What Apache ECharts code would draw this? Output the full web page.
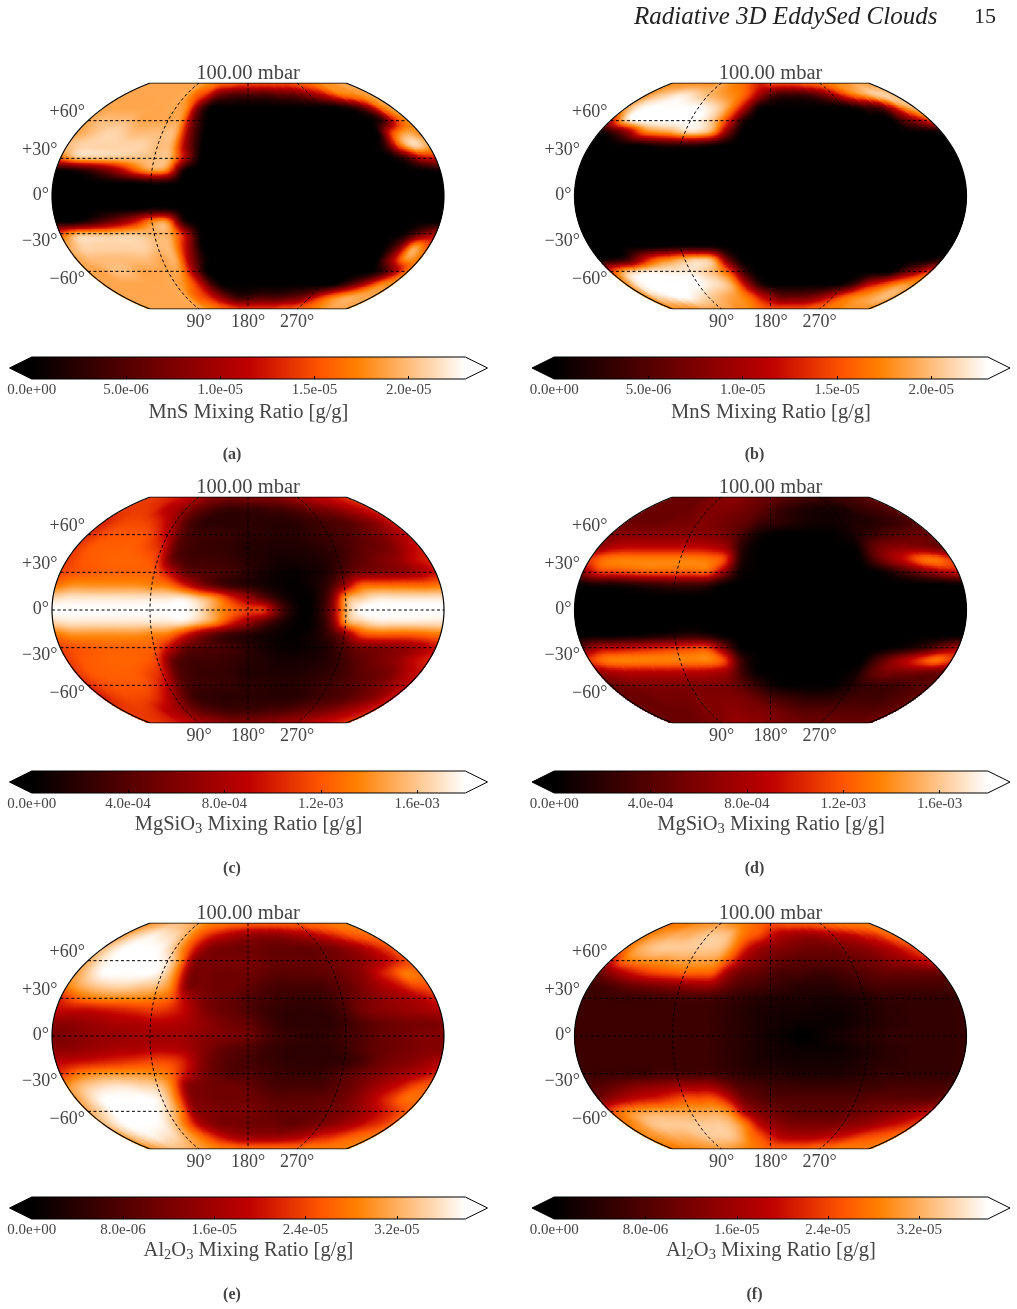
<!DOCTYPE html>
<html>
<head>
<meta charset="utf-8">
<script src="https://cdn.jsdelivr.net/npm/echarts@6/dist/echarts.min.js"></script>
<style>html,body{margin:0;padding:0;background:#fff}#chart{width:1017px;height:1309px}</style>
</head>
<body>
<div id="chart"></div>
<script>
// Node longitudes and latitudes of the cloud fields (degrees)
const LON = [0,15,30,45,60,75,90,105,120,135,150,165,180,195,210,225,240,255,270,285,300,315,330,345,360];
const LAT = [90,80,70,60,50,40,30,20,10,0,-10,-20,-30,-40,-50,-60,-70,-80,-90];

// MnS mixing ratio, unit 1e-6 g/g
const mnsA = [
[19,19,19,19,19,19,19,18,17,16,16,15,15,15,15,15,15,15,16,16,17,18,18,19,19],
[19,19,19,19,19,19,19,16,13,7,5,4,4,4,4,5,5,6,8,10,13,16,17,18,19],
[19,19,19,19,19,19,19,17,6,0,0,0,0,0,0,0,0,0,0,0,1,3,8,16,19],
[19,20,20,20,19,19,19,18,6,0,0,0,0,0,0,0,0,0,0,0,0,0,3,13,18],
[19,20,21,21,20,20,20,19,7,0,0,0,0,0,0,0,0,0,0,0,0,0,14,19,18],
[20,21,21,21,21,21,20,19,8,0,0,0,0,0,0,0,0,0,0,0,0,2,15,21,19],
[16,19.5,20,20,20,20,20,19.5,10,0,0,0,0,0,0,0,0,0,0,0,0,0,3,10,12],
[0,1,3,6,10,15,18,16,1,0,0,0,0,0,0,0,0,0,0,0,0,0,0,0,1],
[0,0,0,0,0,0,1,1,0,0,0,0,0,0,0,0,0,0,0,0,0,0,0,0,0],
[0,0,0,0,0,0,0,0,0,0,0,0,0,0,0,0,0,0,0,0,0,0,0,0,0],
[0,0,0,0,0,0,1,1,0,0,0,0,0,0,0,0,0,0,0,0,0,0,0,0,0],
[0,0,2,5,8,12,17,17,2,0,0,0,0,0,0,0,0,0,0,0,0,0,0,0,0],
[15,19,19.5,19.5,20,20,19.5,19,11,0,0,0,0,0,0,0,0,0,0,0,0,0,1,6,10],
[19,21,21,21,21,21,20,19,10,0,0,0,0,0,0,0,0,0,0,0,0,0,6,18,15],
[19,20,20,20,20,20,19,19,9,1,0,0,0,0,0,0,0,0,0,0,0,0,9,18,17],
[19,19,20,20,19,19,19,18,9,0,0,0,0,0,0,0,0,0,0,0,0,0,3,10,17],
[19,19,19,19,19,19,19,17,12,4,0,0,0,0,0,0,0,0,0,0,3,7,12,17,18],
[19,19,19,19,19,19,19,16,14,10,6,3,3,4,4,4,5,6,9,13,16,18,19,19,19],
[19,19,19,19,19,19,19,18,17,16,15,14,14,14,14,14,15,15,16,16,17,18,19,19,19]];

const mnsB = [
[18,18,18,18,18,18,19,18,17,16,14,13,15,15,15,15,16,16,17,17,18,18,19,19,19],
[18,20,21,22,22,21,20,19,18,17,14,9,5,3,3,3,4,6,9,13,16,18,20,21,20],
[19,22,23,23,23,23,23,22,20,16,9,1,0,0,0,0,0,0,0,1,3,4,10,17,20],
[12,20,23,23,23,23,23,22,19,12,2,0,0,0,0,0,0,0,0,0,0,0,5,9,14],
[0,3,8,15,17,18,20,20,17,7,0,0,0,0,0,0,0,0,0,0,0,0,0,0,0],
[0,0,0,0,1,2,2,2,1,0,0,0,0,0,0,0,0,0,0,0,0,0,0,0,0],
[0,0,0,0,0,0,0,0,0,0,0,0,0,0,0,0,0,0,0,0,0,0,0,0,0],
[0,0,0,0,0,0,0,0,0,0,0,0,0,0,0,0,0,0,0,0,0,0,0,0,0],
[0,0,0,0,0,0,0,0,0,0,0,0,0,0,0,0,0,0,0,0,0,0,0,0,0],
[0,0,0,0,0,0,0,0,0,0,0,0,0,0,0,0,0,0,0,0,0,0,0,0,0],
[0,0,0,0,0,0,0,0,0,0,0,0,0,0,0,0,0,0,0,0,0,0,0,0,0],
[0,0,0,0,0,0,0,0,0,0,0,0,0,0,0,0,0,0,0,0,0,0,0,0,0],
[0,0,0,0,0,0,0,0,0,0,0,0,0,0,0,0,0,0,0,0,0,0,0,0,0],
[0,0,0,0,0,0.5,1,1,1,0,0,0,0,0,0,0,0,0,0,0,0,0,0,0,0],
[0,1,3,10,15,17,19,20,18,6,0,0,0,0,0,0,0,0,0,0,0,0,0,0,2],
[14,19,21,22,22,22,22,21,19,14,4,0,0,0,0,0,0,0,0,0,0,0,5,9,14],
[18,22,23,23,23,23,23,22,21,18,10,3,0,0,0,0,0,0,1,4,10,13,16,18,18],
[18,21,22,23,23,22,21,20,19,18,16,12,9,6,6,6,7,9,12,15,17,18,19,20,19],
[18,18,18,18,19,19,19,19,18,18,17,16,15,15,15,15,15,16,16,17,17,18,18,18,18]];

// MgSiO3 mixing ratio, unit 1e-4 g/g
const mgC = [
[11,11,10.5,10,9.5,9,8,7,6,6,5.5,5.5,6,6,6,6,6.5,7,7.5,8,9,9,9.5,10,11],
[11,11,11,10.5,9,8,6.5,5,4,3,2.5,2.5,2.5,2.5,3,3,3.5,4,5,5.5,6,7,8,9,10],
[10,11,11.5,11.5,11,9.5,7,4,2.5,2,2,2,2,2,1.8,1.8,2,2.5,3,3.5,4,5,6,7.5,9.5],
[10.5,11.5,12,12,12,11,8.5,4.5,3,2.8,2.6,2.4,2,2,1.8,1.8,2,2.5,3,3.5,4,5,6,7.5,9],
[11,12,12.3,12.3,12.3,11.5,10,4.5,3,2.6,2.5,2.2,1.6,1.6,1.4,1.4,1.6,2,2.5,3.5,4.5,5,6,8,9.5],
[11,12,12.3,12.5,12.5,12.3,11,5,3.2,3,2.8,2.5,1.8,1.5,1,1,1.2,1.5,2.5,4,5,6,7,9,10],
[11.5,12,12.3,12.5,12.5,12.5,12.2,9,5,4,3.5,3,2,1.2,0.6,0.4,0.8,1.5,3.5,5.5,6,6.5,7,8,9.5],
[13,14,14,14,14,14,13.5,13,10,6.5,4,2.5,1.8,1,0.4,0.2,0.8,2.5,7,12,12.5,12.5,12.5,12.5,13],
[16.5,17,17,17,17,17,17,17,17,15.5,13.5,10,7,4,1.5,0.2,0.5,4,14,16,17,17,17,17,17],
[18,18,18,18,18,18,18,18,18,17,14.5,12.5,11,10.5,4,0.6,0.6,5,15,18,18,18,18,18,18],
[16.5,17,17,17,17,17,17,17,17,15.5,13.5,10,7,4,1.5,0.2,0.5,4,14,16,17,17,17,17,17],
[13,14,14,14,14,14,13.5,13,10,6.5,4,2.5,1.8,1,0.4,0.2,0.8,2.5,6,11,12,12,12,12.5,13],
[11.5,12,12.3,12.5,12.5,12.5,12.2,9,5,4,3.5,3,2,1.2,0.6,0.4,0.8,1.5,3.5,5.5,6,6.5,7,8,9.5],
[11,12,12.3,12.5,12.5,12.3,11,5,3.2,3,2.8,2.5,1.8,1.5,1,1,1.2,1.5,2.5,4,5,6,7,9,10],
[11,12,12.3,12.3,12.3,11.5,10,4.5,3,2.6,2.5,2.2,1.6,1.6,1.4,1.4,1.6,2,2.5,3.5,4.5,5,6,8,9.5],
[10.5,11.5,12,12,12,11,8.5,4.5,3,2.8,2.6,2.4,2,2,1.8,1.8,2,2.5,3,3.5,4,5,6,7.5,9],
[10,11,11.5,11.5,11,9.5,7,4,2.5,2.2,2,2,2,2,1.8,1.8,2,2.5,3,3.5,4,5,6,7.5,9.5],
[11,11,11,10.5,9,8,6.5,5,4,3.5,3,3,3,3,3.5,3.5,4,4.5,5,5.5,6,7,8,9,10],
[11,11,10.5,10,9.5,9,8,7.5,7,6.5,6,6,6,6,6.5,6.5,7,7,7.5,8,9,9,9.5,10,11]];

const mgD = [
[5,5,5,5,5,6,6,6.5,6.5,6,5.5,5,5,4.5,4,3.5,3,3,2.5,2.5,3,3,3.5,4,5],
[5,5,5,5,5,5.5,6,6,6,5.5,5,4.5,3.5,2.5,2,1.5,1.2,1,1,1.2,2,2.5,3,3.5,4.5],
[5,5,5,5,5.5,5.5,6,6,5.5,5,4.5,3,2.5,2,1.5,1,0.8,0.8,1,1.5,1.5,2,2.5,3,4],
[6,6.5,6.5,6.5,6.5,6.5,6.5,6.5,6,5,3,1,0.2,0,0,0,0,0.3,1,2,3,4,4.5,5,5],
[7,8.5,9,9,9,9,9,9,8.5,7,2,0.2,0,0,0,0,0,0.1,0.5,4,6,6.5,6.5,6,5],
[11,13,13.5,13.5,13.5,13.5,13.5,13.5,13,11,2,0.2,0,0,0,0,0,0,0.4,4,7,9.5,12.5,13,11],
[7,10.5,11,11.5,12,12,12,12,12,7,1,0.2,0,0,0,0,0,0,0,0.4,2,4,6,8,9],
[0.2,1,1,1.5,2,2.5,3,3,2.5,0.5,0,0,0,0,0,0,0,0,0,0,0,0,0,0,0.3],
[0,0,0,0,0,0,0,0,0,0,0,0,0,0,0,0,0,0,0,0,0,0,0,0,0],
[0,0,0,0,0,0,0,0,0,0,0,0,0,0,0,0,0,0,0,0,0,0,0,0,0],
[0,0,0,0,0,0,0,0,0,0,0,0,0,0,0,0,0,0,0,0,0,0,0,0,0],
[0,0,0,0.3,0.5,1,1.5,2,1.5,0.2,0,0,0,0,0,0,0,0,0,0,0,0,0,0,0],
[5,8,8.5,9,9.5,10,10.5,11,11,6,0.5,0,0,0,0,0,0,0,0,0,0.5,1.5,3,5.5,7.5],
[11,13,13.5,13.5,13.5,13.5,13.5,13.5,13.5,11,3,0.3,0,0,0,0,0,0,0,3,6,8.5,11,13,11],
[7,8,8.5,8.5,8.5,8.5,8.5,8.5,8,7,3,0.5,0.1,0,0,0,0,0.1,1,4,5.5,5.5,5.5,5,5],
[5,5.5,6,6,6,6,6,6,6,5.5,4,2.5,1,0.3,0.1,0.1,0.1,0.5,1.5,2.5,3,3,3.5,4,4.5],
[5,5,5,5.5,5.5,5.5,6,6,6,6,5.5,4.5,3.5,3,2.5,2,2,2,2.5,3,3,3,3.5,4,4.5],
[5,5,5,5,5,5.5,6,6,6.5,6.5,6,6,5.5,5,4.5,4,4,4,4,4,4,4,4,4.5,5],
[5,5,5,5,5.5,6,6,6.5,7,7,6.5,6.5,6,6,5.5,5.5,5,5,5,5,5,5,5,5,5]];

// Al2O3 mixing ratio, unit 1e-6 g/g
const alE = [
[30,31,32,33,33,32,31,29,28,28,27,27,26,26,26,26,26,26,26,27,27,27,28,28,29],
[31,34,36,37,36,35,32,27,23,20,18,16,15,14,14,14,15,16,17,19,21,23,25,26,27],
[33,36,38,38,38,37,33,26,18,13,12,11,11,11,10,10,10,10,11,12,14,16,19,22,25],
[32,36,38,38,38,38,36,28,14,12,12,12,12,11,10,10,10,10,11,12,13,15,18,21,25],
[31,35,38,38,38,38,36,28,13,12,11,11,11,10,9,9,9,9.5,10,12,14,19,23,28,27],
[29,32,34,35,35,34,33,28,13,12,11,11,10,8,7,7,7,7,9,11,14,17,20,24,25],
[22,26,28,29,29,29,28,26,18,13,11,10,8,7,6,5.5,5.5,6,8,11,13,15,16,18,21],
[19,19,19,20,21,22,23,22,19,14,11,10,8,6,5,4.5,4.5,5,7,11,13,14,15,16,17],
[14,14,15,16,17,17,18,18,17,15,13,11,10,7,5,4.5,4.5,4.5,6,8,10,11,12,12,13],
[12,13,14,15,15,16,16,16,16,14,13,12,11,8,6,5,4.5,5,6.5,8,10,11,12,13,13],
[14,14,15,16,17,17,18,18,17,14,11,9,8,6,5,4.5,4.5,4.5,6,8,10,11,12,13,13],
[18,19,20,21,22,23,24,24,21,14,10,8,7,6,5,4.5,4.5,4.5,5,7,10,12,13,15,17],
[23,27,29,30,30,30,29,27,20,13,10,8,8,7,6,5.5,5.5,6,8,10,12,14,16,18,21],
[30,33,35,36,36,35,34,28,14,12,11,11,10,8,7,7,7,7,9,11,14,17,20,24,26],
[31,35,38,38,38,38,36,28,14,12,11,11,11,10,9,9,9,9.5,10,12,15,19,23,27,27],
[32,35,38,38,38,38,35,28,15,13,12,12,12,11,10,10,10,10,11,12,14,17,20,23,26],
[33,36,38,38,38,37,33,26,18,14,12,12,11,11,11,10,10,11,12,14,16,18,21,23,26],
[31,34,36,37,36,35,32,29,25,21,18,16,15,15,15,15,16,17,19,21,22,24,26,27,28],
[30,31,32,33,33,32,31,30,29,28,28,27,27,27,27,27,27,27,27,28,28,28,28,28,29]];

const alF = [
[27,28,28,29,30,30,31,30,29,28,27,26,25,25,26,26,26,26,27,27,28,28,28,28,28],
[28,30,31,32,32,33,34,34,33,29,26,24,20,17,16,15,15,16,17,18,19,21,22,25,27],
[27,31,33,34,34,34,34,34,33,28,21,16,14,13,12,11,11,11,12,13,14,16,18,21,24],
[20,27,29,30,30,31,31,31,30,24,16,13,11,10,9,9,9,9,10,11,12,14,15,18,20],
[10,15,19,22,24,25,26,26,25,16,11,10,8,7,7,6,6,7,8,9,10,10,10,10,10],
[6,7,9,11,12,13,14,15,15,11,8,7,6,5,4,4,4,5,6,7,7,7,7,7,7],
[6,6,6,6,6,6.5,7,7,7,6,5,4,3.5,3,3,2.5,2.5,3,3.5,4.5,5,5,5,5,5.5],
[6,6,6,6,6,6,6,6,6,5,4,3,2.5,2,2,1.5,1.5,2,3,4,4.5,5,5,5,5.5],
[6,6,6,6,6,6,6,6,6,5,4,3,2.2,1.5,1,1,1.2,2,3,4,4.5,5,5,5,5.5],
[6,6,6,6,6,6,6,6,6,5,4,3,1.8,0.8,0,0.8,2,3,4,4.5,5,5,5,5,5.5],
[6,6,6,6,6,6,6,6,6,5,4,3,2.2,1.5,1,1,1.2,2,3,4,4.5,5,5,5,5.5],
[6,6,6,6,6,6,6,6,6,5,4,3,2.5,2,2,2,2,2.5,3.5,4,4.5,5,5,5,5.5],
[6,6,6,6,6,7,7,7,7,6,5,4,4,3.5,3,3,3,3.5,4,5,5,5,5,5,5.5],
[8,9,11,13,14,15,16,16,16,12,8,7,6,6,5.5,5.5,5.5,5.5,6,6,7,7,7,7,7],
[11,15,18,20,21,23,25,25,25,20,12,9,8,8,8,8,8,8,8,9,9,9,9,9,10],
[24,28,30,31,31,31,31,31,31,28,18,13,11,10,9,9,9,9,10,11,12,13,14,16,18],
[28,30,33,34,34,34,34,34,34,32,27,19,15,13,12,12,12,12,13,14,15,17,19,21,23],
[29,30,31,32,32,33,34,34,34,32,28,25,21,18,17,17,17,18,19,20,22,24,25,26,27],
[28,28,29,29,30,30,31,31,30,29,28,27,26,26,26,26,26,27,27,27,28,28,28,28,28]];

// Colour bar tops and tick labels, in the same units as the fields
const mnsMax = 23, mgMax = 18, alMax = 38;
const mnsTicks = [0,5,10,15,20];
const mnsTickLabels = ['0.0e+00','5.0e-06','1.0e-05','1.5e-05','2.0e-05'];
const mgTicks = [0,4,8,12,16];
const mgTickLabels = ['0.0e+00','4.0e-04','8.0e-04','1.2e-03','1.6e-03'];
const alTicks = [0,8,16,24,32];
const alTickLabels = ['0.0e+00','8.0e-06','1.6e-05','2.4e-05','3.2e-05'];
const mnsName = '{n|MnS Mixing Ratio [g/g]}';
const mgName = '{n|MgSiO}{s|3}{n| Mixing Ratio [g/g]}';
const alName = '{n|Al}{s|2}{n|O}{s|3}{n| Mixing Ratio [g/g]}';

const parallelTicks = [60,30,0,-30,-60];
const parallelLabels = ['+60°','+30°','0°','−30°','−60°'];
const meridianTicks = [90,180,270];
const meridianLabels = ['90°','180°','270°'];
const pressureLabel = '100.00 mbar';
const runningHead = 'Radiative 3D EddySed Clouds';
const pageNumber = '15';

const panels = [
  {field: mnsA, max: mnsMax, ticks: mnsTicks, labels: mnsTickLabels, name: mnsName, cap: 'a', cx: 248, cy: 196, nameGap: 23},
  {field: mnsB, max: mnsMax, ticks: mnsTicks, labels: mnsTickLabels, name: mnsName, cap: 'b', cx: 770.5, cy: 196, nameGap: 23},
  {field: mgC, max: mgMax, ticks: mgTicks, labels: mgTickLabels, name: mgName, cap: 'c', cx: 248, cy: 610, nameGap: 20},
  {field: mgD, max: mgMax, ticks: mgTicks, labels: mgTickLabels, name: mgName, cap: 'd', cx: 770.5, cy: 610, nameGap: 20},
  {field: alE, max: alMax, ticks: alTicks, labels: alTickLabels, name: alName, cap: 'e', cx: 248, cy: 1036, nameGap: 20},
  {field: alF, max: alMax, ticks: alTicks, labels: alTickLabels, name: alName, cap: 'f', cx: 770.5, cy: 1036, nameGap: 20}
];

const SERIF = '"Liberation Serif", serif';
const INK = '#444';

// Kavrayskiy VII: horizontal map coordinate, centred on longitude 180
function projX(lon, lat) {
  return (lon - 180) * Math.sqrt(1 - 3 * (lat / 180) * (lat / 180));
}

// gist_heat colour ramp
function heat(t) {
  t = Math.max(0, Math.min(1, t));
  const r = Math.min(1, 1.5 * t), g = Math.max(0, 2 * t - 1), b = Math.max(0, 4 * t - 3);
  return 'rgb(' + Math.round(r * 255) + ',' + Math.round(g * 255) + ',' + Math.round(b * 255) + ')';
}
const heatStops = [0, 0.25, 0.5, 2 / 3, 0.75, 0.875, 1].map(function (t) {
  return {offset: t, color: heat(t)};
});

// Catmull-Rom shading between the nodes of a cell
function cubic(a, b, c, d, s) {
  return b + 0.5 * s * (c - a + s * (2 * a - 5 * b + 4 * c - d + s * (3 * (b - c) + d - a)));
}
function shade(field, fi, fj) {
  const i = Math.min(LON.length - 2, Math.floor(fi)), j = Math.min(LAT.length - 2, Math.floor(fj));
  const s = fi - i, u = fj - j;
  const col = [];
  for (let m = -1; m <= 2; m++) {
    const row = field[Math.max(0, Math.min(LAT.length - 1, j + m))];
    col.push(cubic(row[Math.max(0, i - 1)], row[i], row[i + 1], row[Math.min(LON.length - 1, i + 2)], s));
  }
  return cubic(col[0], col[1], col[2], col[3], u);
}

const STRIPS = 8, STOPS = 4;
function fieldRenderer(panel) {
  return function (params, api) {
    const i = api.value(3), j = api.value(4);
    const lon0 = api.value(0), lat0 = api.value(1), lon1 = LON[i + 1], lat1 = LAT[j + 1];
    const children = [];
    for (let k = 0; k < STRIPS; k++) {
      const la0 = lat0 + (lat1 - lat0) * k / STRIPS, la1 = lat0 + (lat1 - lat0) * (k + 1) / STRIPS, mid = (la0 + la1) / 2;
      const a = api.coord([projX(lon0, la0), la0]), b = api.coord([projX(lon1, la0), la0]);
      const c = api.coord([projX(lon1, la1), la1]), d = api.coord([projX(lon0, la1), la1]);
      const g0 = api.coord([projX(lon0, mid), mid]), g1 = api.coord([projX(lon1, mid), mid]);
      const colors = [];
      for (let q = 0; q <= STOPS; q++) {
        colors.push({offset: q / STOPS, color: heat(shade(panel.field, i + q / STOPS, j + (k + 0.5) / STRIPS) / panel.max)});
      }
      // patches overlap the next ones by over a pixel so no edge blends with the page
      const grow = i < LON.length - 2 ? 1.5 : 0;
      const drop = (j < LAT.length - 2 || k < STRIPS - 1) ? 1.5 : 0;
      children.push({
        type: 'polygon',
        shape: {points: [[a[0], a[1]], [b[0] + grow, b[1]], [c[0] + grow, c[1] + drop], [d[0], d[1] + drop]]},
        style: {fill: new echarts.graphic.LinearGradient(g0[0], g0[1], g1[0], g1[1], colors, true)},
        silent: true
      });
    }
    return {type: 'group', children: children};
  };
}

function fieldData(field) {
  const out = [];
  for (let j = 0; j < LAT.length - 1; j++) {
    for (let i = 0; i < LON.length - 1; i++) out.push([LON[i], LAT[j], field[j][i], i, j]);
  }
  return out;
}

const grids = [], xAxes = [], yAxes = [], series = [], graphics = [];
const lineBase = {type: 'line', showSymbol: false, symbol: 'none', silent: true, animation: false, z: 5};

panels.forEach(function (p, n) {
  const mapIdx = grids.length;
  grids.push({left: p.cx - 196, top: p.cy - 113, width: 392, height: 226});
  xAxes.push({
    gridIndex: mapIdx, type: 'value', min: -180, max: 180, splitLine: {show: false},
    axisLine: {show: false, onZero: false}, axisTick: {show: false},
    axisLabel: {
      show: true, customValues: meridianTicks.map(function (m) { return projX(m, 90); }), margin: 4,
      fontFamily: SERIF, fontSize: 18, color: INK,
      formatter: function (v) {
        return meridianLabels[meridianTicks.findIndex(function (m) { return Math.abs(projX(m, 90) - v) < 1e-6; })];
      }
    }
  });
  yAxes.push({gridIndex: mapIdx, type: 'value', min: -90, max: 90, show: false});

  // the cloud field, one shaded patch per grid cell
  series.push({
    type: 'custom', xAxisIndex: mapIdx, yAxisIndex: mapIdx, coordinateSystem: 'cartesian2d',
    data: fieldData(p.field), renderItem: fieldRenderer(p), clip: false, silent: true, animation: false,
    progressive: 0, z: 1, encode: {x: 0, y: 1}
  });

  // dashed parallels and meridians
  parallelTicks.forEach(function (lat) {
    series.push(Object.assign({}, lineBase, {
      xAxisIndex: mapIdx, yAxisIndex: mapIdx, data: [[projX(0, lat), lat], [projX(360, lat), lat]],
      lineStyle: {color: '#000', width: 1, type: [3, 2.5]}
    }));
  });
  meridianTicks.forEach(function (lon) {
    const pts = [];
    for (let lat = 90; lat >= -90; lat -= 3) pts.push([projX(lon, lat), lat]);
    series.push(Object.assign({}, lineBase, {
      xAxisIndex: mapIdx, yAxisIndex: mapIdx, data: pts,
      lineStyle: {color: '#000', width: 1, type: [3, 2.5]}
    }));
  });

  // map outline
  const rim = [];
  for (let lat = -90; lat <= 90; lat += 3) rim.push([projX(0, lat), lat]);
  for (let lat = 90; lat >= -90; lat -= 3) rim.push([projX(360, lat), lat]);
  rim.push(rim[0]);
  series.push(Object.assign({}, lineBase, {
    xAxisIndex: mapIdx, yAxisIndex: mapIdx, data: rim, z: 6,
    lineStyle: {color: '#000', width: 1.2}
  }));

  // parallel labels sit outside the curved edge
  series.push({
    type: 'custom', xAxisIndex: mapIdx, yAxisIndex: mapIdx, coordinateSystem: 'cartesian2d',
    clip: false, silent: true, animation: false, z: 7,
    data: parallelTicks.map(function (lat, k) { return [projX(0, lat), lat, k]; }),
    renderItem: function (params, api) {
      const lat = api.value(1), pt = api.coord([api.value(0), lat]);
      const dy = lat > 0 ? -8 : (lat < 0 ? 8 : -1);
      return {
        type: 'text', silent: true,
        style: {
          text: parallelLabels[api.value(2)], x: pt[0] - 3, y: pt[1] + dy, align: 'right', verticalAlign: 'middle',
          font: '18px ' + SERIF, fill: INK
        }
      };
    }
  });

  // colour bar with its triangular extensions, outlined as one shape
  const barIdx = grids.length;
  grids.push({left: p.cx - 216.3, top: p.cy + 161, width: 433.6, height: 22});
  xAxes.push({
    gridIndex: barIdx, type: 'value', min: 0, max: p.max, splitLine: {show: false},
    name: p.name, nameLocation: 'middle', nameGap: p.nameGap,
    nameTextStyle: {
      rich: {
        n: {fontFamily: SERIF, fontSize: 20.5, color: INK},
        s: {fontFamily: SERIF, fontSize: 14.5, color: INK, padding: [9, 0, 0, 0]}
      }
    },
    axisLine: {show: false, onZero: false},
    axisTick: {show: true, inside: true, length: 3, customValues: p.ticks, lineStyle: {color: '#000', width: 1}},
    axisLabel: {
      show: true, customValues: p.ticks, margin: 4, fontFamily: SERIF, fontSize: 15, color: INK,
      formatter: function (v) { return p.labels[p.ticks.indexOf(v)]; }
    },
    z: 8
  });
  yAxes.push({gridIndex: barIdx, type: 'value', min: 0, max: 1, show: false});
  series.push({
    type: 'custom', xAxisIndex: barIdx, yAxisIndex: barIdx, coordinateSystem: 'cartesian2d',
    clip: false, silent: true, animation: false, z: 3, data: [[0, p.max]],
    renderItem: function (params, api) {
      const a = api.coord([api.value(0), 1]), b = api.coord([api.value(1), 0]);
      const midY = (a[1] + b[1]) / 2, tip = 22.2;
      return {
        type: 'group', children: [
          {type: 'polygon', silent: true, shape: {points: [[a[0] + 2, a[1]], [a[0], a[1]], [a[0] - tip, midY], [a[0], b[1]], [a[0] + 2, b[1]]]},
            style: {fill: heat(0)}},
          {type: 'polygon', silent: true, shape: {points: [[b[0] - 2, a[1]], [b[0], a[1]], [b[0] + tip, midY], [b[0], b[1]], [b[0] - 2, b[1]]]},
            style: {fill: heat(1)}},
          {type: 'rect', silent: true, shape: {x: a[0], y: a[1], width: b[0] - a[0], height: b[1] - a[1]},
            style: {fill: new echarts.graphic.LinearGradient(a[0], 0, b[0], 0, heatStops, true)}},
          {type: 'polygon', silent: true,
            shape: {points: [[a[0] - tip, midY], [a[0], a[1]], [b[0], a[1]], [b[0] + tip, midY], [b[0], b[1]], [a[0], b[1]]]},
            style: {fill: 'none', stroke: '#000', lineWidth: 1}}
        ]
      };
    }
  });

  graphics.push({
    type: 'text', x: p.cx, y: p.cy - 122.5, silent: true,
    style: {text: pressureLabel, align: 'center', verticalAlign: 'middle', font: '20.5px ' + SERIF, fill: INK}
  });
  graphics.push({
    type: 'text', x: p.cx - 16, y: p.cy + 259, silent: true,
    style: {text: '(' + p.cap + ')', align: 'center', verticalAlign: 'middle', font: 'bold 16px ' + SERIF, fill: INK}
  });
});

graphics.push({
  type: 'text', x: 634, y: 17, silent: true,
  style: {text: runningHead, align: 'left', verticalAlign: 'middle', font: 'italic 25px ' + SERIF, fill: '#222'}
});
graphics.push({
  type: 'text', x: 974, y: 17, silent: true,
  style: {text: pageNumber, align: 'left', verticalAlign: 'middle', font: '22px ' + SERIF, fill: '#222'}
});

const chart = echarts.init(document.getElementById('chart'), null, {renderer: 'canvas'});
chart.setOption({
  animation: false, backgroundColor: '#fff',
  grid: grids, xAxis: xAxes, yAxis: yAxes, series: series, graphic: graphics
});
</script>
</body>
</html>
